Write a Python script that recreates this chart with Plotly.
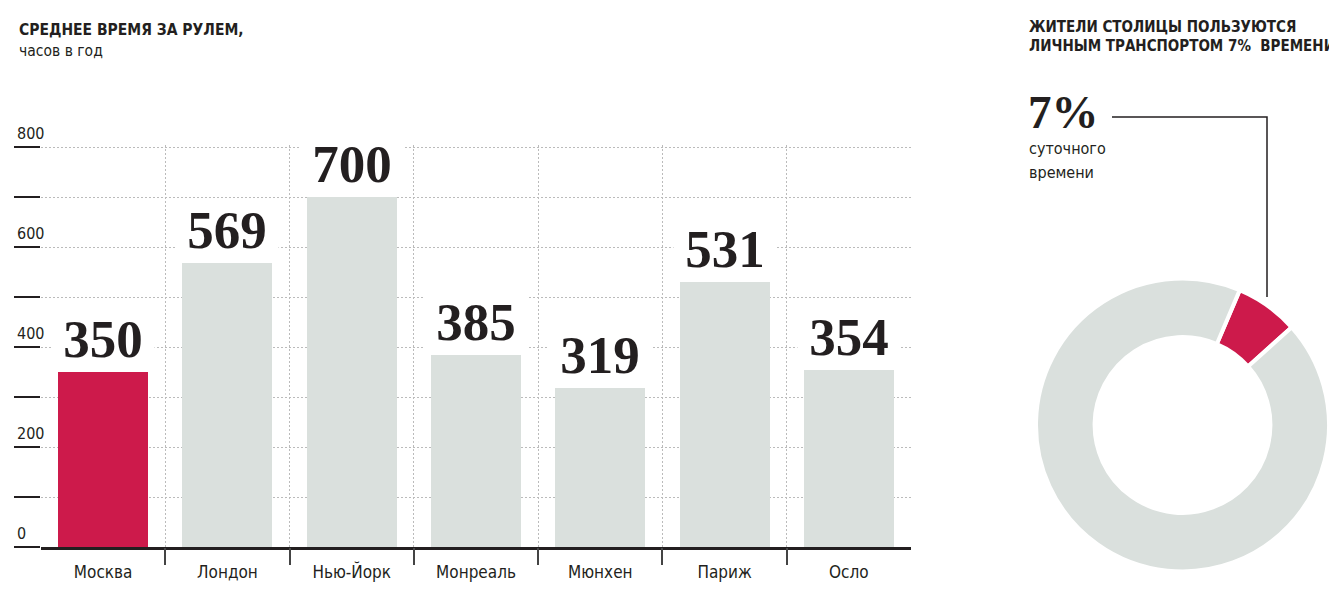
import plotly.graph_objects as go
import numpy as np

# ---------------- data ----------------
cities = ["Москва", "Лондон", "Нью-Йорк", "Монреаль", "Мюнхен", "Париж", "Осло"]
hours = [350, 569, 700, 385, 319, 531, 354]
highlight_city = "Москва"
y_ticks = [0, 100, 200, 300, 400, 500, 600, 700, 800]
y_labels = [0, 200, 400, 600, 800]

share_labels = ["Личный транспорт", "Остальное время"]
share_values = [7, 93]
share_text = "7%"

title_left = "<b>СРЕДНЕЕ ВРЕМЯ ЗА РУЛЕМ,</b>"
subtitle_left = "часов в год"
title_right_1 = "<b>ЖИТЕЛИ СТОЛИЦЫ ПОЛЬЗУЮТСЯ</b>"
title_right_2 = "<b>ЛИЧНЫМ ТРАНСПОРТОМ 7%  ВРЕМЕНИ</b>"
pie_caption = ["суточного", "времени"]

# ---------------- style ----------------
W, H = 1329, 590
RED = "#CD1A4B"
GRAY = "#DAE0DD"
DARK = "#231F20"
GRID = "#BBBBBB"
COND = "Liberation Sans Narrow, DejaVu Sans Condensed, Roboto, sans-serif"
SERIF = "Liberation Serif, DejaVu Serif, serif"

x0_px, x1_px = 41, 911
y_top_px, y_bot_px = 145, 547
xdom = [x0_px / W, x1_px / W]
ydom = [(H - y_bot_px) / H, (H - y_top_px) / H]
yrange = [0, 804]

fig = go.Figure()

colors = [RED if c == highlight_city else GRAY for c in cities]
fig.add_trace(go.Bar(
    x=cities, y=hours, marker=dict(color=colors, line=dict(width=0)),
    width=0.725, xaxis="x", yaxis="y", hoverinfo="x+y", showlegend=False,
))

# invisible trace to activate the boundary axis
n = len(cities)
bounds = list(np.arange(0.5, n - 1, 1.0))
fig.add_trace(go.Scatter(x=[-0.5, n - 0.5], y=[0, 0], xaxis="x2", yaxis="y",
                         mode="lines", line=dict(width=0), hoverinfo="skip",
                         showlegend=False))

pie_cx, pie_cy, pie_r = 1183, 425, 148
fig.add_trace(go.Pie(
    labels=share_labels, values=share_values, sort=False,
    direction="clockwise", rotation=23, hole=0.6,
    marker=dict(colors=[RED, GRAY], line=dict(color="white", width=4)),
    textinfo="none", hoverinfo="label+value", showlegend=False,
    domain=dict(x=[(pie_cx - 147) / W, 1.0],
                y=[(H - pie_cy - pie_r) / H, (H - pie_cy + pie_r) / H]),
))

fig.update_layout(
    width=W, height=H, autosize=False,
    margin=dict(l=0, r=0, t=0, b=0),
    paper_bgcolor="white", plot_bgcolor="white",
    font=dict(family=COND, color=DARK),
    bargap=0,
    xaxis=dict(
        domain=xdom, type="category", range=[-0.5, n - 0.5],
        showgrid=False, ticks="", showline=True, linecolor=DARK, linewidth=3,
        tickfont=dict(family=COND, size=17, color=DARK), ticklabelstandoff=8,
        fixedrange=True, zeroline=False,
    ),
    xaxis2=dict(
        domain=xdom, overlaying="x", anchor="y", side="bottom",
        range=[-0.5, n - 0.5], tickvals=bounds, showticklabels=False,
        showgrid=True, gridcolor=GRID, griddash="2px,2px", gridwidth=1,
        ticks="outside", ticklen=17, tickwidth=1.5, tickcolor="#444",
        showline=False, zeroline=False, fixedrange=True,
    ),
    yaxis=dict(
        domain=ydom, range=yrange, tickvals=y_ticks, showticklabels=False,
        showgrid=True, gridcolor=GRID, griddash="2px,2px", gridwidth=1,
        ticks="outside", ticklen=26, tickwidth=2, tickcolor=DARK,
        showline=False, zeroline=False, fixedrange=True,
    ),
)

annotations = []
# value labels above bars
for c, v in zip(cities, hours):
    annotations.append(dict(
        x=c, y=v, xref="x", yref="y", text=f"<b>{v}</b>", showarrow=False,
        yanchor="bottom", xanchor="center", yshift=2,
        font=dict(family=SERIF, size=53, color=DARK),
        bgcolor="white", width=100, borderpad=1,
    ))
# y tick labels (above tick marks)
for v in y_labels:
    annotations.append(dict(
        x=xdom[0], y=v, xref="paper", yref="y", text=str(v), showarrow=False,
        xanchor="left", yanchor="bottom", xshift=-26, yshift=2,
        font=dict(family=COND, size=16, color=DARK),
    ))
# titles
annotations += [
    dict(x=17 / W, y=1 - 30 / H, xref="paper", yref="paper", text=title_left,
         showarrow=False, xanchor="left", yanchor="middle",
         font=dict(family=COND, size=15.5, color=DARK)),
    dict(x=17 / W, y=1 - 51 / H, xref="paper", yref="paper", text=subtitle_left,
         showarrow=False, xanchor="left", yanchor="middle",
         font=dict(family=COND, size=15.5, color=DARK)),
    dict(x=1027 / W, y=1 - 27 / H, xref="paper", yref="paper", text=title_right_1,
         showarrow=False, xanchor="left", yanchor="middle",
         font=dict(family=COND, size=15, color=DARK)),
    dict(x=1027 / W, y=1 - 46 / H, xref="paper", yref="paper", text=title_right_2,
         showarrow=False, xanchor="left", yanchor="middle",
         font=dict(family=COND, size=15, color=DARK)),
    dict(x=1026 / W, y=1 - 112 / H, xref="paper", yref="paper",
         text=f"<b>{share_text}</b>", showarrow=False, xanchor="left",
         yanchor="middle", font=dict(family=SERIF, size=47, color=DARK)),
]
for i, line in enumerate(pie_caption):
    annotations.append(dict(
        x=1027 / W, y=1 - (148 + 24 * i) / H, xref="paper", yref="paper",
        text=line, showarrow=False, xanchor="left", yanchor="middle",
        font=dict(family=COND, size=16, color=DARK)))
fig.update_layout(annotations=annotations)

# leader line
fig.add_shape(type="path", xref="paper", yref="paper",
              path=f"M {1112 / W} {1 - 117 / H} L {1267 / W} {1 - 117 / H} L {1267 / W} {1 - 297 / H}",
              line=dict(color=DARK, width=1.5))

fig.write_html("out.html", config={"displayModeBar": False},
               post_script="document.body.style.margin='0';document.body.style.overflow='hidden';")
